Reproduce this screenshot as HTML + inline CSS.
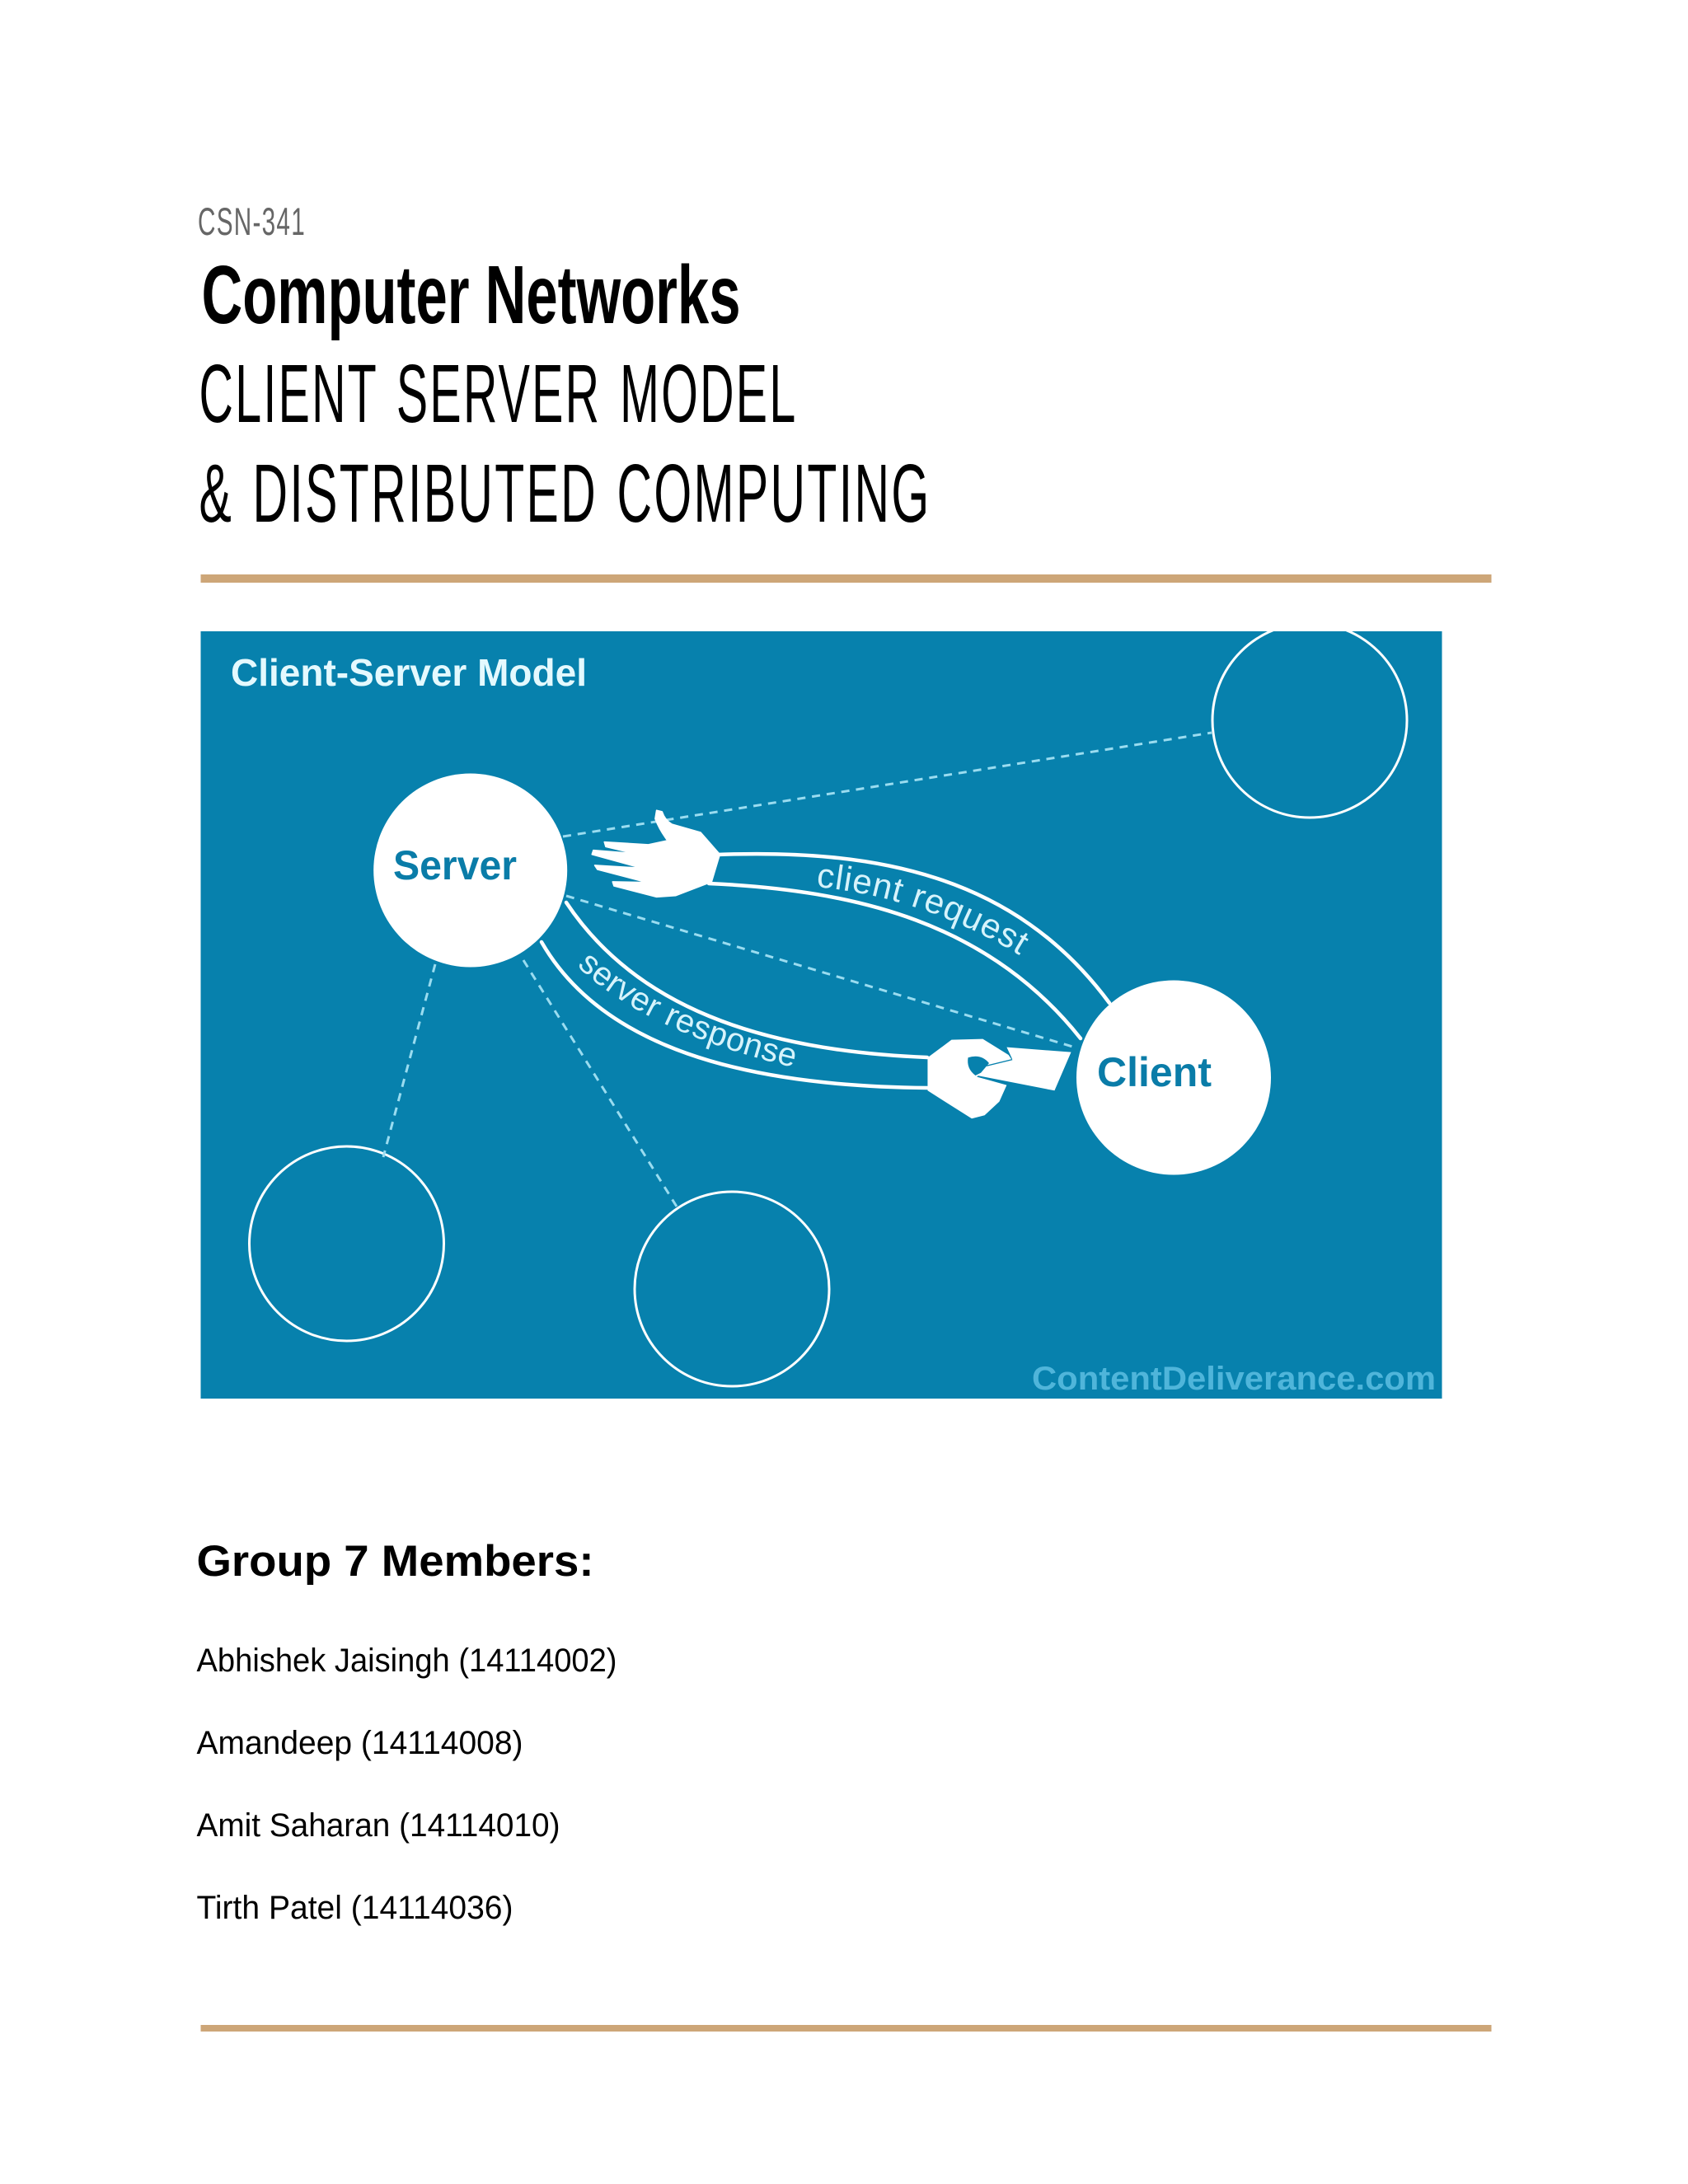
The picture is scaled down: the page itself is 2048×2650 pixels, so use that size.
<!DOCTYPE html>
<html lang="en">
<head>
<meta charset="utf-8">
<title>Computer Networks</title>
<style>
html,body{margin:0;padding:0;background:#fff;width:2048px;height:2650px;overflow:hidden}
svg{display:block}
text{font-family:"Liberation Sans",sans-serif}
</style>
</head>
<body>
<svg xmlns="http://www.w3.org/2000/svg" width="2048" height="2650" viewBox="0 0 2048 2650">
<defs>
<clipPath id="c"><rect x="243.5" y="766" width="1506" height="931"/></clipPath>
<path id="p1" d="M990 1076 Q1135 1090 1262 1175"/>
<path id="p2" d="M700 1172 Q790 1258 985 1300"/>
</defs>
<rect width="2048" height="2650" fill="#fff"/>

<text x="240" y="285" font-size="47" fill="#666" letter-spacing="2" textLength="131" lengthAdjust="spacingAndGlyphs">CSN-341</text>
<text x="244.5" y="392" font-size="100" font-weight="700" fill="#000" textLength="654" lengthAdjust="spacingAndGlyphs">Computer Networks</text>
<text x="241.5" y="512" font-size="100" fill="#000" letter-spacing="4" word-spacing="8" textLength="726" lengthAdjust="spacingAndGlyphs">CLIENT SERVER MODEL</text>
<text x="241.5" y="633" font-size="100" fill="#000" letter-spacing="4" word-spacing="8" textLength="888" lengthAdjust="spacingAndGlyphs">&amp; DISTRIBUTED COMPUTING</text>
<rect x="243.5" y="697" width="1566" height="10" fill="#cda678"/>

<g clip-path="url(#c)">
<rect x="243.5" y="766" width="1506" height="931" fill="#0781ad"/>

<g fill="none" stroke="#fff" stroke-width="3">
<circle cx="1589" cy="874" r="118"/>
<circle cx="420.5" cy="1509" r="118"/>
<circle cx="888" cy="1564" r="118"/>
</g>

<g fill="none" stroke="#9adcf0" stroke-width="3" stroke-dasharray="10 8">
<path d="M683 1015L1470 889"/>
<path d="M687 1087L1308 1272"/>
<path d="M528 1170L465 1404"/>
<path d="M635 1165L821 1464"/>
</g>

<g fill="none" stroke="#fff" stroke-width="4.5" stroke-linecap="round">
<path d="M870 1037C1060 1030 1230 1060 1346 1217"/>
<path d="M860 1072C1040 1080 1200 1120 1311 1260"/>
<path d="M687 1095C770 1220 920 1275 1125 1283"/>
<path d="M657 1143C730 1270 900 1318 1125 1320"/>
</g>

<circle cx="570.7" cy="1056" r="117.5" fill="#fff"/>
<circle cx="1424" cy="1307.5" r="118" fill="#fff"/>

<g transform="translate(420,920) scale(.3333)" fill="#fff" stroke="#fff" stroke-width="5" stroke-linejoin="round">
<path d="M1130 190L1150 195Q1160 225 1185 240L1290 270L1360 350L1330 450L1200 500L1130 505L975 465L970 450L1095 452L915 405L905 390L1075 400L895 350L900 335L1050 347L945 322L940 305L1100 315L1170 300Q1140 260 1125 220Z"/>
</g>
<g transform="translate(900,1000) scale(.4464,.3333)">
<path fill="#fff" d="M505 850L570 785L655 782L725 840L735 860L670 880L640 920L720 950L700 1010L660 1060L625 1072L505 970Z"/>
<path fill="#fff" d="M720 812L895 830L850 970L640 915L665 880L735 855Z"/>
<path fill="#0781ad" d="M615 850Q650 835 672 870L650 905L635 915Q610 890 615 850Z"/>
<path fill="none" stroke="#0781ad" stroke-width="4" d="M640 918L720 945M665 880L735 857"/>
</g>

<text x="477" y="1067" font-size="50" font-weight="700" fill="#0a7ca8" textLength="150" lengthAdjust="spacingAndGlyphs">Server</text>
<text x="1331" y="1318" font-size="50" font-weight="700" fill="#0a7ca8" textLength="139" lengthAdjust="spacingAndGlyphs">Client</text>
<text x="280" y="832" font-size="46" font-weight="700" fill="#e4f9fe" textLength="432" lengthAdjust="spacingAndGlyphs">Client-Server Model</text>
<text x="1252" y="1686" font-size="40" font-weight="700" fill="#4fb5da" textLength="490" lengthAdjust="spacingAndGlyphs">ContentDeliverance.com</text>

<text font-size="42" fill="#d6f3fb" letter-spacing="1"><textPath href="#p1">client request</textPath></text>
<text font-size="40" fill="#d6f3fb" letter-spacing="0.5"><textPath href="#p2">server response</textPath></text>
</g>

<text x="238.5" y="1912" font-size="53" font-weight="700" fill="#000" textLength="482" lengthAdjust="spacingAndGlyphs">Group 7 Members:</text>
<text x="238.5" y="2028" font-size="40" fill="#000" textLength="510" lengthAdjust="spacingAndGlyphs">Abhishek Jaisingh (14114002)</text>
<text x="238.5" y="2128" font-size="40" fill="#000" textLength="396" lengthAdjust="spacingAndGlyphs">Amandeep (14114008)</text>
<text x="238.5" y="2228" font-size="40" fill="#000" textLength="441" lengthAdjust="spacingAndGlyphs">Amit Saharan (14114010)</text>
<text x="238.5" y="2328" font-size="40" fill="#000" textLength="384" lengthAdjust="spacingAndGlyphs">Tirth Patel (14114036)</text>

<rect x="243.5" y="2457" width="1566" height="8" fill="#cda678"/>
</svg>
</body>
</html>
